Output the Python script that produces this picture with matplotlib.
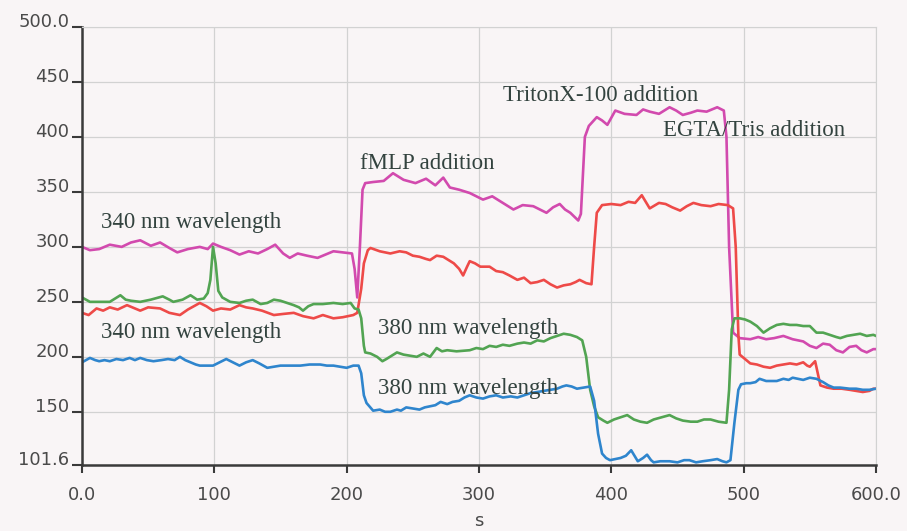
import matplotlib
matplotlib.use("Agg")
import matplotlib.pyplot as plt

# 340 nm trace, upper (magenta)
t_mag = [0, 6, 13, 21, 30, 37, 44, 52, 59, 66, 72, 80, 89, 95, 99, 105, 112, 119, 126, 133,
         140, 146, 152, 157, 163, 170, 178, 184, 190, 197, 204, 206, 208, 210, 212, 214, 220, 228,
         235, 243, 252, 260, 267, 273, 278, 285, 293, 303, 310, 318, 326, 333, 341, 346, 351, 356,
         361, 365, 369, 375, 377, 380, 383, 389, 393, 397, 403, 410, 419, 424, 429, 436, 444, 449,
         454, 460, 465, 472, 480, 485, 487, 489, 492, 497, 505, 511, 517, 523, 530, 537, 545, 550,
         555, 560, 565, 570, 575, 580, 585, 589, 593, 598, 600]
mag = [300, 297, 298, 302, 300, 304, 306, 301, 304, 299, 295, 298, 300, 298, 303, 300, 297, 293, 296, 294,
       298, 302, 294, 290, 294, 292, 290, 293, 296, 295, 294, 280, 254, 300, 352, 358, 359, 360,
       367, 361, 358, 362, 356, 363, 354, 352, 349, 343, 346, 340, 334, 338, 337, 334, 331, 336,
       339, 334, 331, 324, 330, 400, 410, 418, 415, 411, 424, 421, 420, 425, 423, 421, 427, 424,
       420, 422, 424, 423, 427, 424, 400, 300, 222, 217, 216, 218, 216, 217, 219, 216, 214, 210,
       208, 212, 211, 206, 204, 209, 210, 206, 204, 207, 207]

# 340 nm trace, lower (red)
t_red = [0, 5, 11, 16, 21, 27, 34, 40, 44, 50, 59, 66, 74, 80, 89, 94, 99, 105, 112, 119, 124, 129,
         136, 145, 152, 160, 167, 175, 182, 190, 197, 205, 208, 211, 213, 216, 218, 225, 233, 240,
         245, 250, 255, 260, 263, 268, 273, 277, 281, 285, 288, 291, 293, 297, 301, 308, 313, 318,
         323, 329, 334, 339, 344, 349, 354, 359, 364, 369, 373, 376, 381, 385, 387, 389, 393, 400,
         407, 413, 418, 423, 429, 436, 441, 446, 452, 457, 462, 468, 475, 481, 488, 492, 494, 496,
         497, 500, 505, 510, 515, 520, 525, 530, 535, 540, 545, 548, 550, 554, 556, 558, 563, 568,
         574, 580, 585, 590, 595, 598, 600]
red = [240, 238, 244, 242, 245, 243, 247, 244, 242, 245, 244, 240, 238, 243, 249, 246, 242, 244, 243, 247, 245, 244,
       242, 238, 239, 240, 237, 235, 238, 235, 236, 238, 240, 262, 285, 297, 299, 296, 294, 296,
       295, 292, 291, 289, 288, 292, 291, 288, 285, 280, 274, 282, 287, 285, 282, 282, 278, 277,
       274, 270, 272, 267, 268, 270, 266, 263, 265, 266, 268, 270, 267, 266, 300, 331, 338, 339,
       338, 341, 340, 347, 335, 340, 339, 336, 333, 337, 340, 338, 337, 339, 338, 335, 300, 220,
       202, 199, 194, 193, 191, 190, 192, 193, 194, 193, 195, 192, 191, 196, 185, 174, 172, 171,
       171, 170, 169, 168, 169, 171, 171]

# 380 nm trace, upper (green)
t_grn = [0, 6, 13, 21, 29, 33, 37, 44, 52, 61, 66, 69, 76, 82, 87, 92, 95, 97, 99, 101, 103, 106,
         112, 119, 124, 129, 135, 140, 145, 150, 155, 160, 164, 167, 171, 175, 182, 190, 197, 203,
         206, 209, 211, 213, 214, 218, 223, 227, 230, 234, 238, 243, 248, 253, 258, 263, 268, 272,
         276, 283, 293, 298, 303, 308, 313, 318, 323, 329, 334, 339, 344, 349, 354, 359, 364, 369,
         374, 378, 381, 384, 387, 390, 394, 397, 402, 407, 412, 417, 422, 427, 432, 438, 444, 449,
         454, 460, 465, 470, 475, 481, 487, 489, 491, 493, 497, 501, 505, 510, 515, 520, 525, 530,
         535, 540, 545, 550, 555, 560, 565, 570, 573, 578, 583, 588, 593, 598, 600]
grn = [254, 250, 250, 250, 256, 252, 251, 250, 252, 255, 252, 250, 252, 256, 252, 253, 258, 270, 300, 285, 260, 254,
       250, 249, 251, 252, 248, 249, 252, 251, 249, 247, 245, 242, 246, 248, 248, 249, 248, 249,
       244, 243, 235, 210, 204, 203, 200, 196, 198, 201, 204, 202, 201, 200, 203, 200, 208, 205,
       206, 205, 206, 208, 207, 210, 209, 211, 210, 212, 213, 212, 215, 214, 217, 219, 221, 220,
       218, 215, 200, 170, 155, 145, 142, 140, 143, 145, 147, 143, 141, 140, 143, 145, 147, 144,
       142, 141, 141, 143, 143, 141, 140, 170, 225, 235, 235, 234, 232, 228, 222, 226, 229, 230,
       229, 229, 228, 228, 222, 222, 220, 218, 217, 219, 220, 221, 219, 220, 219]

# 380 nm trace, lower (blue)
t_blu = [0, 3, 6, 10, 13, 17, 21, 26, 31, 36, 40, 44, 49, 54, 60, 65, 70, 74, 78, 82, 86, 89, 94,
         99, 104, 109, 114, 119, 124, 129, 134, 140, 145, 150, 157, 165, 172, 180, 185, 190, 195,
         200, 205, 209, 211, 213, 215, 220, 225, 229, 233, 238, 241, 245, 250, 255, 259, 263, 267,
         271, 276, 280, 285, 289, 293, 298, 303, 308, 313, 318, 324, 329, 334, 339, 344, 349, 354,
         359, 363, 366, 370, 374, 379, 384, 387, 390, 393, 396, 399, 403, 407, 411, 415, 418, 420,
         424, 427, 430, 432, 437, 444, 450, 455, 459, 464, 469, 475, 480, 484, 487, 490, 493, 496,
         498, 502, 505, 509, 512, 517, 521, 525, 530, 534, 537, 541, 545, 550, 555, 560, 564, 568,
         573, 580, 585, 590, 595, 600]
blu = [195, 197, 199, 197, 196, 197, 196, 198, 197, 199, 197, 199, 197, 196, 197, 198, 197, 200, 197, 195, 193, 192, 192,
       192, 195, 198, 195, 192, 195, 197, 194, 190, 191, 192, 192, 192, 193, 193, 192, 192, 191,
       190, 192, 192, 185, 165, 158, 151, 152, 150, 150, 152, 151, 154, 153, 152, 154, 155, 156,
       159, 157, 159, 160, 163, 165, 163, 162, 164, 165, 163, 164, 163, 165, 167, 168, 169, 170,
       171, 173, 174, 173, 171, 172, 173, 160, 130, 112, 108, 106, 107, 108, 110, 115, 109, 105,
       108, 111, 106, 104, 105, 105, 104, 106, 106, 104, 105, 106, 107, 105, 104, 106, 140, 170,
       175, 176, 176, 177, 180, 178, 178, 178, 180, 179, 181, 180, 179, 181, 180, 177, 174, 172,
       172, 171, 171, 170, 170, 171]

y_ticks = [101.6, 150, 200, 250, 300, 350, 400, 450, 500]
y_labels = ['101.6', '150', '200', '250', '300', '350', '400', '450', '500.0']
x_ticks = [0, 100, 200, 300, 400, 500, 600]
x_labels = ['0.0', '100', '200', '300', '400', '500', '600.0']

# text, x, y
notes = [
    ('340 nm wavelength', 14, 322),
    ('340 nm wavelength', 14, 222.5),
    ('fMLP addition', 210, 376),
    ('TritonX-100 addition', 318, 438),
    ('EGTA/Tris addition', 439, 406),
    ('380 nm wavelength', 223.5, 226),
    ('380 nm wavelength', 223.5, 171),
]

bg = '#f9f5f6'
fig = plt.figure(figsize=(9.07, 5.31), dpi=100, facecolor=bg)
ax = fig.add_axes([82 / 907, 1 - 465 / 531, 794 / 907, 438 / 531])
ax.set_facecolor(bg)

ax.plot(t_mag, mag, color='#d24aae', lw=1.9)
ax.plot(t_red, red, color='#ee4a48', lw=1.9)
ax.plot(t_grn, grn, color='#52a452', lw=1.9)
ax.plot(t_blu, blu, color='#2f85cd', lw=1.9)

ax.set_xlim(0, 600)
ax.set_ylim(101.6, 500)

ax.set_xticks(x_ticks)
ax.set_xticklabels(x_labels)
ax.set_yticks(y_ticks)
ax.set_yticklabels(y_labels)

for lab in ax.get_yticklabels():
    lab.set_verticalalignment('baseline')

ax.tick_params(axis='both', colors='#3a3a3a', labelcolor='#4a4a4a', labelsize=13, width=1.5)
ax.tick_params(axis='y', length=7, pad=2)
ax.tick_params(axis='x', length=6, pad=9)
for lab in ax.get_xticklabels() + ax.get_yticklabels():
    lab.set_family('DejaVu Sans')

ax.grid(True, color='#d2d2d2', lw=0.9)
ax.set_axisbelow(True)

ax.spines['left'].set_color('#3a3a3a')
ax.spines['bottom'].set_color('#3a3a3a')
ax.spines['left'].set_linewidth(1.8)
ax.spines['bottom'].set_linewidth(1.8)
ax.spines['top'].set_color('#d2d2d2')
ax.spines['right'].set_color('#d2d2d2')

ax.set_xlabel('s', family='DejaVu Sans', fontsize=13, color='#4a4a4a', labelpad=6)

for text, x, y in notes:
    ax.text(x, y, text, family='Liberation Serif', fontsize=16.5, color='#33433f',
            ha='left', va='center')

fig.savefig('out.png', dpi=100, facecolor=bg)
